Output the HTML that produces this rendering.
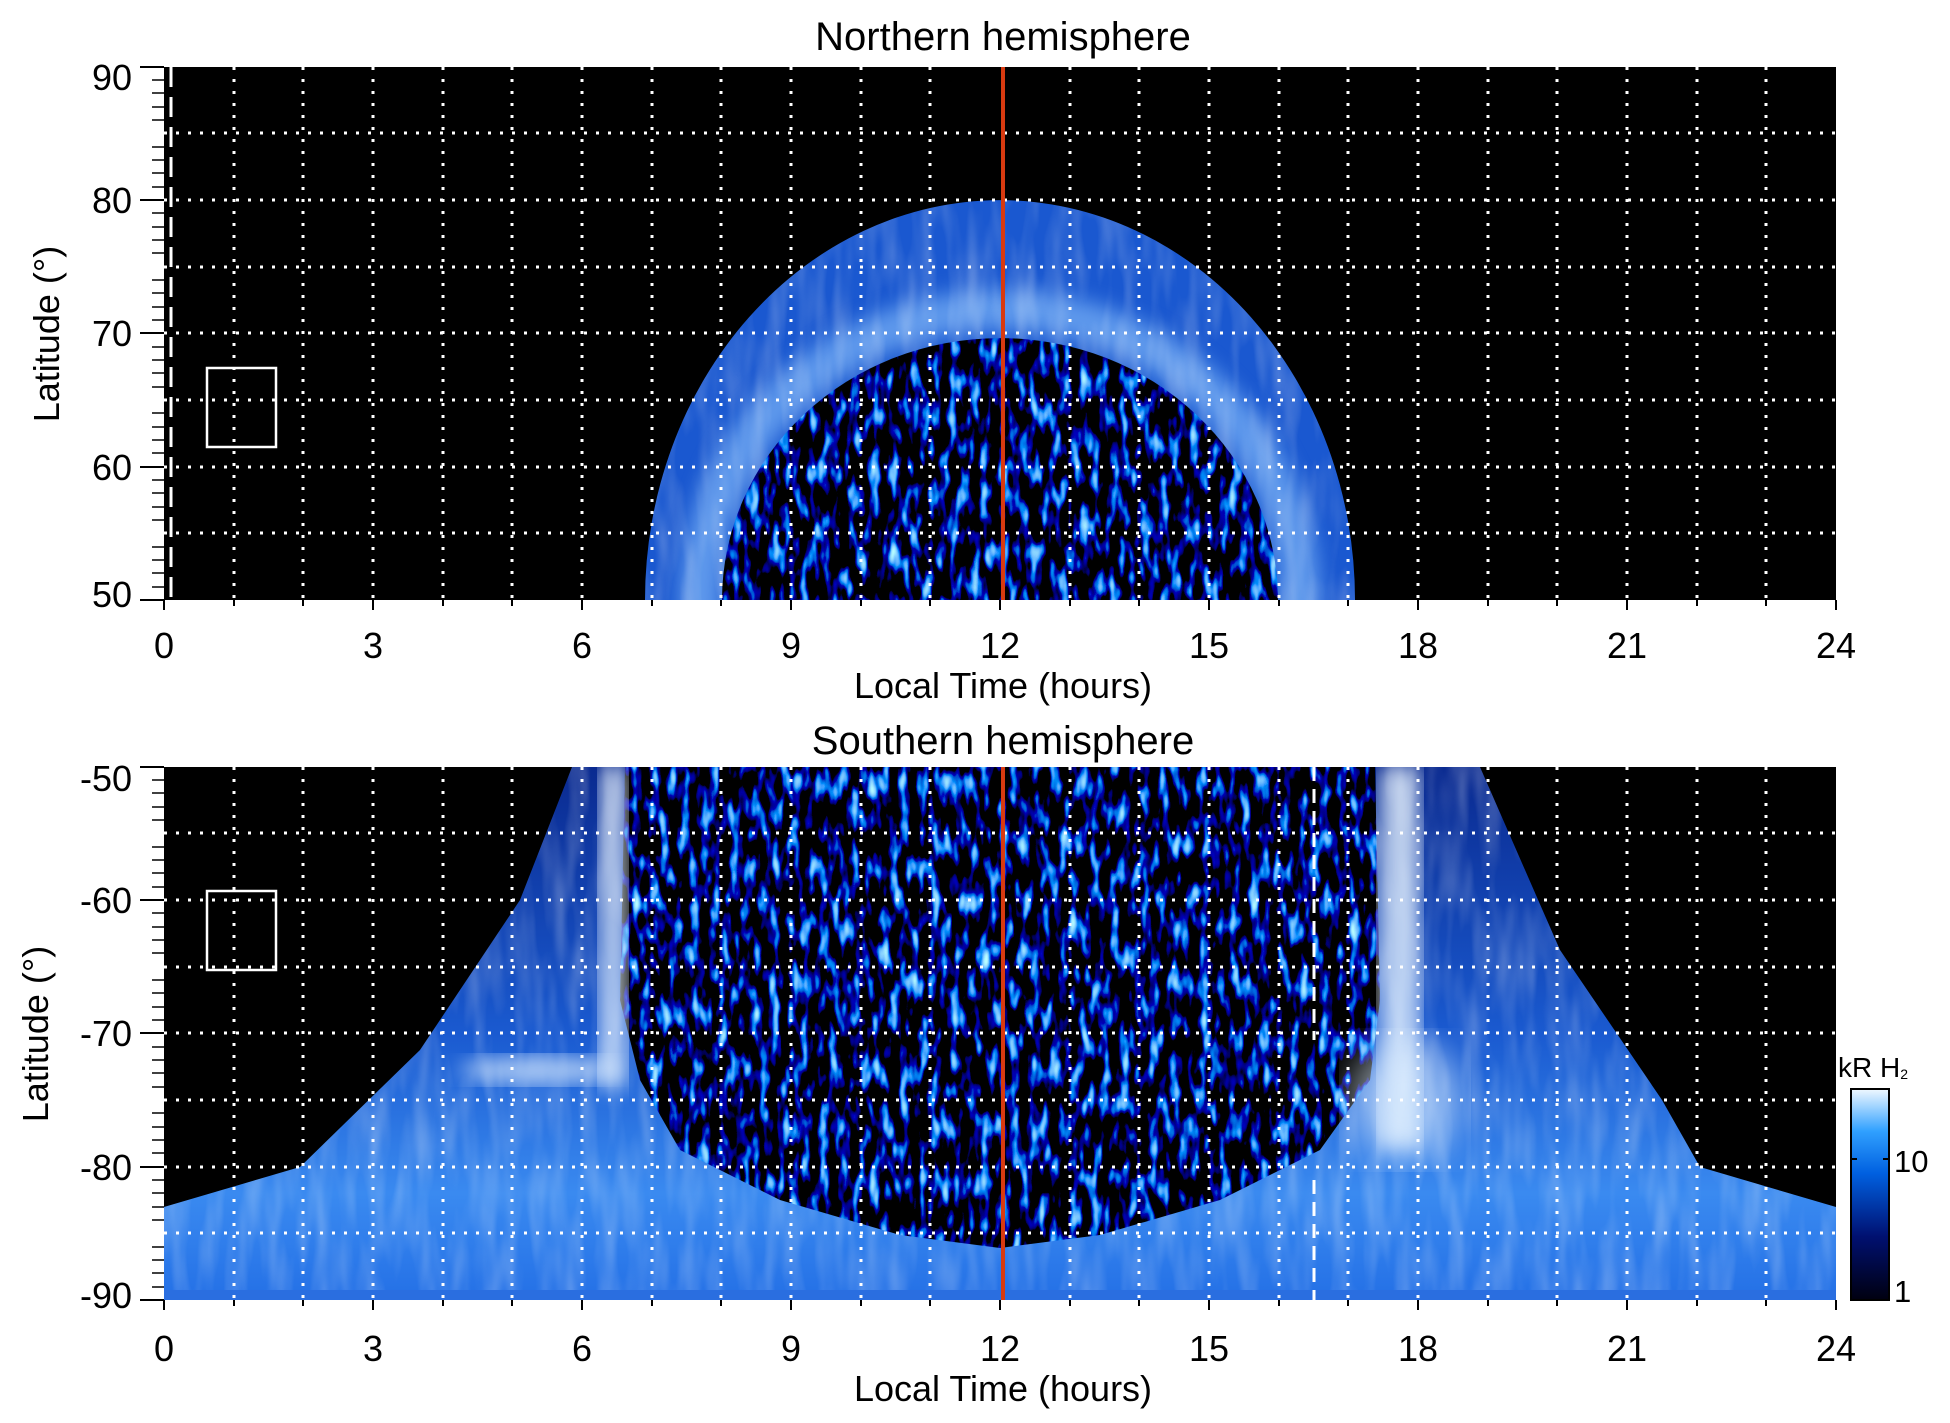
<!DOCTYPE html>
<html><head><meta charset="utf-8"><style>
html,body{margin:0;padding:0;background:#fff;width:1950px;height:1423px;overflow:hidden}
svg{display:block}
text{font-family:"Liberation Sans",Arial,sans-serif;fill:#000}
</style></head><body>
<svg width="1950" height="1423" viewBox="0 0 1950 1423" xmlns="http://www.w3.org/2000/svg">
<defs>
<filter id="spk" x="0" y="0" width="100%" height="100%">
<feTurbulence type="fractalNoise" baseFrequency="0.1 0.035" numOctaves="2" seed="3"/>
<feColorMatrix type="matrix" values="2 0 0 0 -1.35  3 0 0 0 -1.75  5 0 0 0 -2.4  0 0 0 0 1"/>
</filter>
<filter id="str" x="0" y="0" width="100%" height="100%">
<feTurbulence type="fractalNoise" baseFrequency="0.06 0.012" numOctaves="2" seed="7"/>
<feColorMatrix type="matrix" values="0 0 0 0 1  0 0 0 0 1  0 0 0 0 1  1.6 0 0 0 -0.6"/>
</filter>
<filter id="blur"><feGaussianBlur stdDeviation="10"/></filter>
<filter id="blur2"><feGaussianBlur stdDeviation="18"/></filter>
<clipPath id="c1"><rect x="164" y="67" width="1672" height="533"/></clipPath>
<clipPath id="c2"><rect x="164" y="767" width="1672" height="533"/></clipPath>
<clipPath id="band"><path fill-rule="evenodd" d="M645,600 A355,400 0 0 1 1355,600 Z M722,600 A278,262 0 0 1 1278,600 Z"/></clipPath>
<clipPath id="inner"><path d="M722,600 A278,262 0 0 1 1278,600 Z"/></clipPath>
<clipPath id="fan"><path d="M572,767 L652,767 L700,900 L791,1150 L1000,1240 L1209,1150 L1300,900 L1348,767 L1480,767 L1560,950 L1662,1100 L1700,1167 L1836,1207 L1836,1300 L164,1300 L164,1207 L300,1167 L420,1050 L520,900 Z"/></clipPath>
<clipPath id="cen"><path d="M625,767 L1375,767 L1380,1000 L1370,1080 L1320,1150 L1220,1200 L1100,1235 L1000,1248 L900,1235 L780,1200 L680,1150 L640,1080 L620,1000 Z"/></clipPath>
<linearGradient id="gb" x1="0" y1="0" x2="0" y2="1"><stop offset="0" stop-color="#0a2a90"/><stop offset="0.5" stop-color="#1a5ad0"/><stop offset="0.8" stop-color="#3a8af0"/><stop offset="1" stop-color="#2470e6"/></linearGradient>
<linearGradient id="colb" x1="0" y1="1" x2="0" y2="0"><stop offset="0" stop-color="#000010"/><stop offset="0.3" stop-color="#001070"/><stop offset="0.6" stop-color="#0060e0"/><stop offset="0.8" stop-color="#30a0ff"/><stop offset="1" stop-color="#f0f8ff"/></linearGradient>
</defs>

<!-- TOP PANEL -->
<rect x="164" y="67" width="1672" height="533" fill="#000"/>
<g clip-path="url(#c1)">
<rect x="600" y="150" width="800" height="460" fill="#1a58d0" clip-path="url(#band)"/>
<g clip-path="url(#band)"><ellipse cx="1000" cy="600" rx="300" ry="290" fill="none" stroke="#8cc4ff" stroke-width="40" opacity="0.6" filter="url(#blur)"/>
<rect x="600" y="150" width="800" height="460" filter="url(#str)" opacity="0.3"/></g>
<rect x="720" y="330" width="560" height="280" filter="url(#spk)" clip-path="url(#inner)"/>
</g>

<!-- BOTTOM PANEL -->
<rect x="164" y="767" width="1672" height="533" fill="#000"/>
<g clip-path="url(#c2)">
<rect x="164" y="767" width="1672" height="533" fill="url(#gb)" clip-path="url(#fan)"/>
<g clip-path="url(#fan)"><rect x="164" y="767" width="1672" height="533" filter="url(#str)" opacity="0.3"/></g>
<rect x="164" y="1290" width="1672" height="10" fill="#2a6ee0"/>
<rect x="620" y="767" width="760" height="490" filter="url(#spk)" clip-path="url(#cen)"/>
<rect x="600" y="767" width="26" height="320" fill="#e8f4ff" opacity="0.8" filter="url(#blur)"/>
<rect x="1380" y="767" width="40" height="380" fill="#e8f4ff" opacity="0.8" filter="url(#blur)"/>
<ellipse cx="1405" cy="1100" rx="55" ry="60" fill="#e0f0ff" opacity="0.6" filter="url(#blur2)"/>
<ellipse cx="540" cy="1070" rx="80" ry="14" fill="#e0f0ff" opacity="0.7" filter="url(#blur)"/>
<line x1="1314" y1="767" x2="1314" y2="1040" stroke="#fff" stroke-width="3" stroke-dasharray="14,8"/>
<line x1="1314" y1="1180" x2="1314" y2="1300" stroke="#fff" stroke-width="3" stroke-dasharray="14,8"/>
</g>

<!-- grids -->
<g stroke="#fff" stroke-width="3" stroke-dasharray="3,9">
<path d="M234,67V600M303,67V600M373,67V600M443,67V600M512,67V600M582,67V600M652,67V600M721,67V600M791,67V600M861,67V600M930,67V600M1070,67V600M1139,67V600M1209,67V600M1279,67V600M1348,67V600M1418,67V600M1488,67V600M1557,67V600M1627,67V600M1697,67V600M1766,67V600"/>
<path d="M164,133H1836M164,200H1836M164,267H1836M164,333H1836M164,400H1836M164,467H1836M164,533H1836"/>
<path d="M234,767V1300M303,767V1300M373,767V1300M443,767V1300M512,767V1300M582,767V1300M652,767V1300M721,767V1300M791,767V1300M861,767V1300M930,767V1300M1070,767V1300M1139,767V1300M1209,767V1300M1279,767V1300M1348,767V1300M1418,767V1300M1488,767V1300M1557,767V1300M1627,767V1300M1697,767V1300M1766,767V1300"/>
<path d="M164,833H1836M164,900H1836M164,967H1836M164,1033H1836M164,1100H1836M164,1167H1836M164,1233H1836"/>
</g>
<line x1="171" y1="67" x2="171" y2="600" stroke="#fff" stroke-width="3" stroke-dasharray="20,10"/>
<line x1="1003" y1="67" x2="1003" y2="600" stroke="#d83a10" stroke-width="4"/>
<line x1="1003" y1="767" x2="1003" y2="1300" stroke="#d83a10" stroke-width="4"/>
<rect x="207" y="368" width="69" height="79" fill="none" stroke="#fff" stroke-width="2.5"/>
<rect x="207" y="891" width="69" height="79" fill="none" stroke="#fff" stroke-width="2.5"/>

<!-- axes ticks -->
<g stroke="#000" stroke-width="2">
<path d="M140,67H164M140,200H164M140,333H164M140,467H164M140,600H164"/>
<path d="M140,767H164M140,900H164M140,1033H164M140,1167H164M140,1300H164"/>
<path d="M164,600V610M234,600V606M303,600V606M373,600V610M443,600V606M512,600V606M582,600V610M652,600V606M721,600V606M791,600V610M861,600V606M930,600V606M1000,600V610M1070,600V606M1139,600V606M1209,600V610M1279,600V606M1348,600V606M1418,600V610M1488,600V606M1557,600V606M1627,600V610M1697,600V606M1766,600V606M1836,600V610"/>
<path d="M164,1300V1310M234,1300V1306M303,1300V1306M373,1300V1310M443,1300V1306M512,1300V1306M582,1300V1310M652,1300V1306M721,1300V1306M791,1300V1310M861,1300V1306M930,1300V1306M1000,1300V1310M1070,1300V1306M1139,1300V1306M1209,1300V1310M1279,1300V1306M1348,1300V1306M1418,1300V1310M1488,1300V1306M1557,1300V1306M1627,1300V1310M1697,1300V1306M1766,1300V1306M1836,1300V1310"/>
</g>
<g stroke="#000" stroke-width="1.5">
<path d="M152,80H164M152,93H164M152,107H164M152,120H164M152,147H164M152,160H164M152,173H164M152,187H164M152,213H164M152,227H164M152,240H164M152,253H164M152,280H164M152,293H164M152,307H164M152,320H164M152,347H164M152,360H164M152,373H164M152,387H164M152,413H164M152,427H164M152,440H164M152,453H164M152,480H164M152,493H164M152,507H164M152,520H164M152,547H164M152,560H164M152,573H164M152,587H164"/>
<path d="M152,780H164M152,793H164M152,807H164M152,820H164M152,847H164M152,860H164M152,873H164M152,887H164M152,913H164M152,927H164M152,940H164M152,953H164M152,980H164M152,993H164M152,1007H164M152,1020H164M152,1047H164M152,1060H164M152,1073H164M152,1087H164M152,1113H164M152,1127H164M152,1140H164M152,1153H164M152,1180H164M152,1193H164M152,1207H164M152,1220H164M152,1247H164M152,1260H164M152,1273H164M152,1287H164"/>
</g>

<!-- labels -->
<g font-size="36" text-anchor="end">
<text x="132" y="90">90</text><text x="132" y="213">80</text><text x="132" y="346">70</text><text x="132" y="480">60</text><text x="132" y="607">50</text>
<text x="132" y="791">-50</text><text x="132" y="913">-60</text><text x="132" y="1046">-70</text><text x="132" y="1180">-80</text><text x="132" y="1308">-90</text>
</g>
<g font-size="36" text-anchor="middle">
<text x="164" y="658">0</text><text x="373" y="658">3</text><text x="582" y="658">6</text><text x="791" y="658">9</text><text x="1000" y="658">12</text><text x="1209" y="658">15</text><text x="1418" y="658">18</text><text x="1627" y="658">21</text><text x="1836" y="658">24</text>
<text x="164" y="1361">0</text><text x="373" y="1361">3</text><text x="582" y="1361">6</text><text x="791" y="1361">9</text><text x="1000" y="1361">12</text><text x="1209" y="1361">15</text><text x="1418" y="1361">18</text><text x="1627" y="1361">21</text><text x="1836" y="1361">24</text>
<text x="1003" y="50" font-size="40">Northern hemisphere</text>
<text x="1003" y="754" font-size="40">Southern hemisphere</text>
<text x="1003" y="698">Local Time (hours)</text>
<text x="1003" y="1401">Local Time (hours)</text>
<text transform="translate(59,334) rotate(-90)">Latitude (°)</text>
<text transform="translate(48,1034) rotate(-90)">Latitude (°)</text>
</g>

<!-- colorbar -->
<rect x="1851" y="1089" width="38" height="211" fill="url(#colb)" stroke="#000" stroke-width="2"/>
<path d="M1889,1159h-6M1851,1159h6" stroke="#000" stroke-width="2"/>
<text x="1894" y="1172" font-size="31">10</text>
<text x="1894" y="1302" font-size="31">1</text>
<text x="1838" y="1077" font-size="28">kR H<tspan font-size="14" dy="2">2</tspan></text>
</svg>
</body></html>
